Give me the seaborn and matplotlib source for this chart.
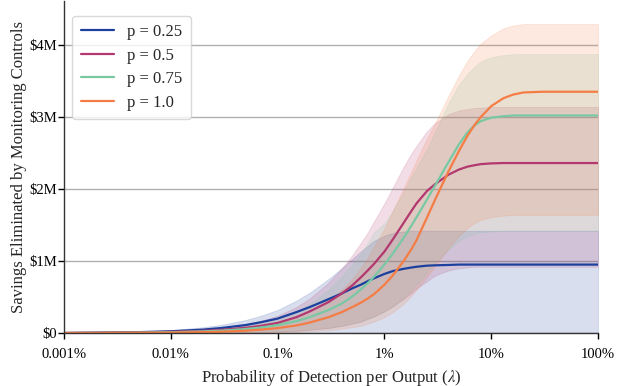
import numpy as np
import pandas as pd
import seaborn as sns
import matplotlib.pyplot as plt
import matplotlib.ticker as tkr

# detection probability per output (fraction)
lam = [1e-5, 2e-5, 5e-5, 1e-4, 2e-4, 3e-4, 5e-4, 7e-4, 1e-3, 1.5e-3, 2e-3, 3e-3,
       4e-3, 5e-3, 6e-3, 7e-3, 8e-3, 1e-2, 1.2e-2, 1.5e-2, 1.8e-2, 2e-2, 2.5e-2, 3e-2,
       4e-2, 5e-2, 6e-2, 7e-2, 8e-2, 0.1, 0.13, 0.16, 0.2, 0.3, 0.5, 1.0]

# savings eliminated, $M (mean lines)
p025 = [0, .005, .012, .024, .047, .07, .11, .15, .20, .29, .36, .47,
        .55, .62, .67, .72, .76, .82, .86, .89, .91, .92, .935, .94,
        .945] + [.95] * 11
p050 = [0, .003, .008, .015, .03, .045, .072, .10, .14, .22, .30, .43,
        .55, .66, .77, .87, .96, 1.13, 1.30, 1.52, 1.70, 1.80, 1.97, 2.07,
        2.20, 2.27, 2.31, 2.33, 2.345, 2.355] + [2.36] * 6
p075 = [0, .002, .005, .011, .022, .033, .055, .077, .11, .165, .22, .32,
        .41, .507, .602, .694, .782, .949, 1.103, 1.312, 1.496, 1.608, 1.851, 2.054,
        2.379, 2.622, 2.788, 2.885, 2.943, 2.99, 3.01] + [3.02] * 5
p100 = [0, .001, .003, .006, .012, .018, .032, .047, .068, .105, .145, .22,
        .29, .36, .42, .48, .54, .67, .80, .99, 1.17, 1.29, 1.60, 1.86,
        2.25, 2.53, 2.74, 2.89, 3.00, 3.15, 3.26, 3.31, 3.34] + [3.35] * 3

# uncertainty bands, $M
lo025 = [0] * 36
hi025 = [0, .008, .02, .04, .08, .115, .18, .24, .32, .45, .56, .75,
         .90, 1.03, 1.13, 1.21, 1.28, 1.35, 1.39, 1.41, 1.42] + [1.42] * 15
lo050 = [0, 0, .001, .002, .004, .006, .01, .014, .02, .03, .045, .07,
         .10, .13, .16, .20, .23, .30, .37, .47, .56, .62, .72, .80,
         .87, .90, .91, .92] + [.92] * 8
hi050 = [0, .005, .012, .025, .05, .075, .12, .17, .24, .36, .48, .70,
         .90, 1.08, 1.25, 1.40, 1.55, 1.80, 2.02, 2.30, 2.50, 2.60, 2.80, 2.92,
         3.04, 3.09, 3.11, 3.125, 3.13, 3.14] + [3.14] * 6
lo075 = [0, 0, .001, .002, .004, .006, .01, .014, .02, .03, .045, .07,
         .10, .13, .16, .19, .23, .30, .37, .48, .60, .67, .84, .98,
         1.16, 1.28, 1.35, 1.38, 1.40, 1.41] + [1.42] * 6
hi075 = [0, .004, .01, .02, .04, .06, .10, .14, .20, .30, .40, .60,
         .78, .95, 1.10, 1.25, 1.40, 1.52, 1.70, 1.95, 2.18, 2.30, 2.55, 2.80,
         3.20, 3.45, 3.60, 3.70, 3.77, 3.83, 3.86, 3.87] + [3.875] * 4
lo100 = [0, 0, .0005, .001, .002, .004, .006, .008, .01, .016, .025, .04,
         .06, .08, .10, .13, .16, .22, .29, .40, .52, .60, .78, .93,
         1.18, 1.35, 1.46, 1.53, 1.57, 1.61, 1.63] + [1.64] * 5
hi100 = [0, .003, .008, .015, .03, .045, .075, .105, .15, .22, .30, .45,
         .60, .75, .90, 1.05, 1.20, 1.45, 1.70, 2.00, 2.25, 2.40, 2.70, 2.92,
         3.30, 3.58, 3.78, 3.92, 4.02, 4.13, 4.23, 4.27] + [4.29] * 4

labels = ['p = 0.25', 'p = 0.5', 'p = 0.75', 'p = 1.0']
colors = ['#1c409e', '#b3386f', '#78c9a3', '#f47d45']

means = [p025, p050, p075, p100]
bands = [(lo025, hi025), (lo050, hi050), (lo075, hi075), (lo100, hi100)]

df = pd.concat([pd.DataFrame({'lam': lam, 'savings': np.array(m) * 1e6, 'p': lab})
                for m, lab in zip(means, labels)], ignore_index=True)

sns.set_style('ticks')
plt.rcParams['font.family'] = ['Liberation Serif', 'DejaVu Serif']
plt.rcParams['mathtext.fontset'] = 'stix'

fig = plt.figure(figsize=(6.23, 3.86), dpi=100)
ax = fig.add_axes([64 / 623, 53 / 386, 534 / 623, 332 / 386])

for (lo, hi), c in zip(bands, colors):
    ax.fill_between(lam, np.array(lo) * 1e6, np.array(hi) * 1e6, color=c, alpha=0.17, linewidth=0.6)

sns.lineplot(data=df, x='lam', y='savings', hue='p', palette=colors, linewidth=1.6, ax=ax)

ax.set_xscale('log')
ax.set_xlim(1e-5, 1)
ax.set_ylim(0, 4.61e6)
ax.set_xticks([1e-5, 1e-4, 1e-3, 1e-2, 1e-1, 1])
ax.set_xticklabels(['0.001%', '0.01%', '0.1%', '1%', '10%', '100%'])
ax.xaxis.set_minor_locator(tkr.NullLocator())
ax.set_yticks([0, 1e6, 2e6, 3e6, 4e6])
ax.set_yticklabels(['$0', '$1M', '$2M', '$3M', '$4M'])
ax.tick_params(labelsize=10.5, length=4, width=1, colors='black')
ax.tick_params(axis='x', pad=6.5)
ax.tick_params(axis='y', pad=1)
ax.yaxis.grid(True, color='#b0b0b0', linewidth=1)
ax.set_axisbelow(True)

ax.set_xlabel(r'Probability of Detection per Output ($\lambda$)', fontsize=12, labelpad=5)
ax.set_ylabel('Savings Eliminated by Monitoring Controls', fontsize=12, labelpad=2)

for s in ['left', 'bottom']:
    ax.spines[s].set_color('#333333')
    ax.spines[s].set_linewidth(1)
sns.despine(ax=ax)

leg = ax.legend(loc='upper left', bbox_to_anchor=(0.0, 0.98), fontsize=12, labelspacing=0.45,
                handlelength=2.0, frameon=True, borderpad=0.5)
leg.get_frame().set_edgecolor('#d0d0d0')

fig.savefig('out.png', dpi=100)
